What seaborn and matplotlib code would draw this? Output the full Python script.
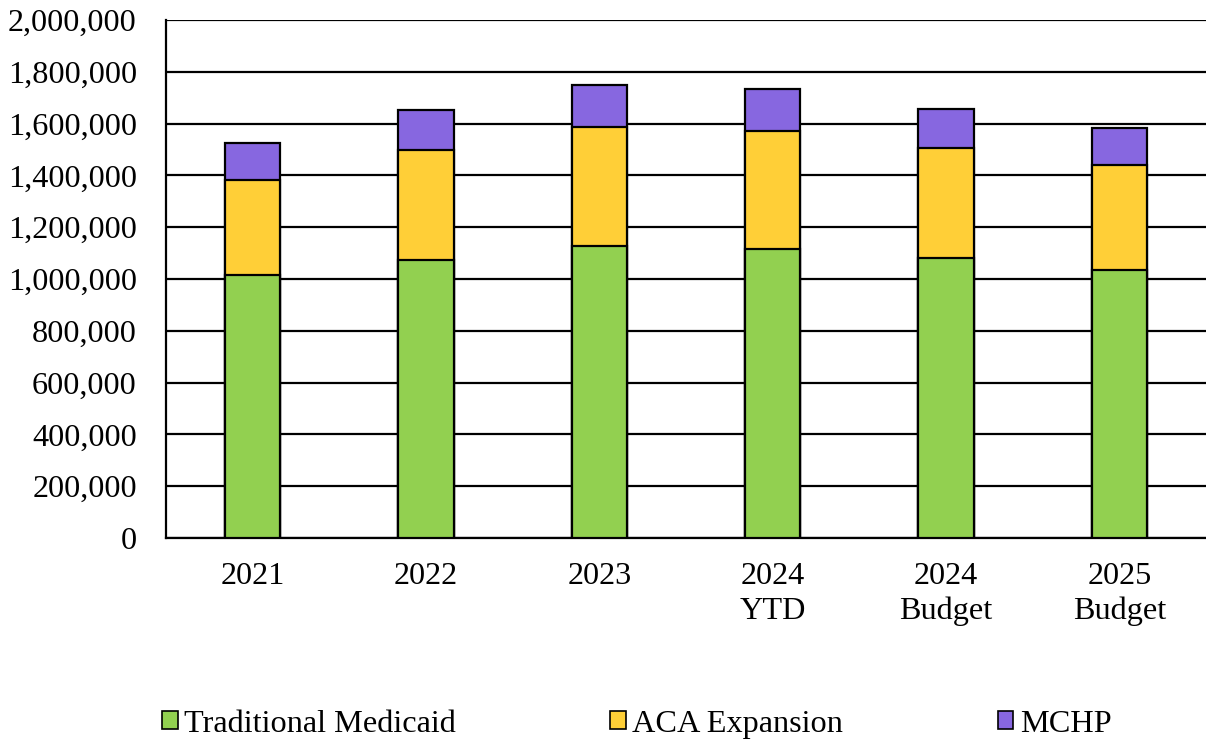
import numpy as np
import pandas as pd
import matplotlib
matplotlib.use("Agg")
import matplotlib.pyplot as plt
from matplotlib.patches import Patch
from matplotlib.ticker import FuncFormatter
import seaborn as sns

categories = ["2021", "2022", "2023", "2024\nYTD", "2024\nBudget", "2025\nBudget"]
traditional = [1017000, 1073000, 1129000, 1116000, 1080000, 1033000]
aca_expansion = [366000, 424000, 458000, 457000, 427000, 406000]
mchp = [142000, 156000, 163000, 161000, 151000, 144000]

series_names = ["Traditional Medicaid", "ACA Expansion", "MCHP"]
colors = ["#92D050", "#FFCF37", "#8767E0"]

sns.set_theme(style="white")
plt.rcParams["font.family"] = ["Liberation Serif", "DejaVu Serif"]
plt.rcParams["text.color"] = "black"

fig = plt.figure(figsize=(12.06, 7.43), dpi=100)
ax = fig.add_axes([166 / 1206, 1 - 538 / 743, 1 - 166 / 1206, 518 / 743])

t = np.array(traditional)
a = np.array(aca_expansion)
m = np.array(mchp)
# Cumulative tops, drawn from tallest to shortest so each layer shows as a stack
layers = [t + a + m, t + a, t]
layer_colors = [colors[2], colors[1], colors[0]]

for z, (vals, col) in enumerate(zip(layers, layer_colors)):
    df = pd.DataFrame({"category": categories, "value": vals})
    sns.barplot(data=df, x="category", y="value", color=col, width=0.32,
                edgecolor="black", linewidth=1.6, saturation=1, ax=ax,
                zorder=3 + z)

ax.set_xlim(-0.5, len(categories) - 0.5)
ax.set_ylim(0, 2000000)
ax.set_yticks(np.arange(0, 2000001, 200000))
ax.yaxis.set_major_formatter(FuncFormatter(lambda v, p: f"{int(v):,}"))
ax.grid(axis="y", color="black", linewidth=1.6, zorder=0)
ax.set_axisbelow(True)
ax.set_xlabel("")
ax.set_ylabel("")

for side in ["top", "right"]:
    ax.spines[side].set_visible(False)
for side in ["left", "bottom"]:
    ax.spines[side].set_color("black")
    ax.spines[side].set_linewidth(1.6)

ax.tick_params(axis="both", length=0, labelsize=23.2, colors="black")
ax.tick_params(axis="x", pad=17)
ax.tick_params(axis="y", pad=21)
for lbl in ax.get_xticklabels():
    lbl.set_linespacing(1.27)

handles = [Patch(facecolor=c, edgecolor="black", linewidth=1.2) for c in colors]
fig.legend(handles, series_names, loc="center", bbox_to_anchor=(0.528, 0.025),
           ncol=3, frameon=False, fontsize=23.2, handlelength=0.48,
           handleheight=0.48, handletextpad=0.2, columnspacing=4.8,
           labelcolor="black")

fig.savefig("out.png", dpi=100)
